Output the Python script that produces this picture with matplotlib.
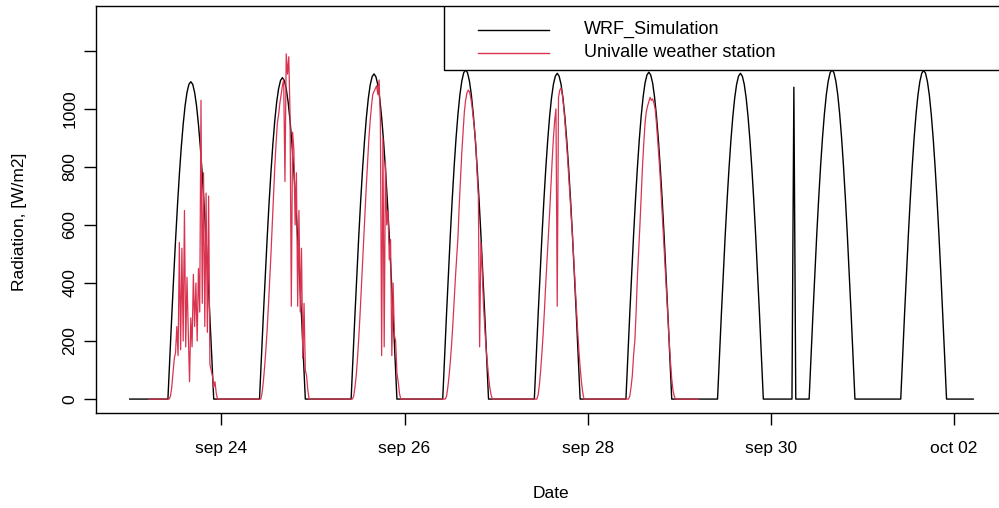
"""WRF simulated vs. Univalle station solar radiation, sep 23 - oct 02."""

import matplotlib
matplotlib.use("Agg")
import matplotlib.pyplot as plt
import numpy as np
from matplotlib.lines import Line2D
from matplotlib.patches import Rectangle

plt.rcParams["font.family"] = ["Liberation Sans", "DejaVu Sans"]

WRF_COLOR = "black"
STATION_COLOR = "#D93350"

# --- WRF simulation: half-hourly, hours counted from sep 23 00:00 ---
WRF_STEP_H = 0.5
WRF_END_H = 221.0
WRF_DAY_START_H = 10.5          # first non-zero sample of every day
# daytime values (10:30 .. 21:30) for each simulated day
wrf_sep23 = [143, 283, 419, 547, 666, 774, 868, 947, 1011, 1057, 1085, 1094,
             1085, 1057, 1011, 947, 868, 774, 666, 547, 419, 283, 143]
wrf_sep24 = [145, 287, 424, 554, 675, 783, 879, 960, 1024, 1070, 1098, 1108,
             1098, 1070, 1024, 960, 879, 783, 675, 554, 424, 287, 145]
wrf_sep25 = [146, 290, 429, 561, 682, 793, 889, 971, 1036, 1083, 1111, 1121,
             1111, 1083, 1036, 971, 889, 793, 682, 561, 429, 290, 146]
wrf_sep26 = [148, 294, 434, 568, 691, 803, 901, 983, 1049, 1096, 1125, 1135,
             1125, 1096, 1049, 983, 901, 803, 691, 568, 434, 294, 148]
wrf_sep27 = [147, 291, 430, 562, 684, 794, 891, 973, 1038, 1085, 1113, 1123,
             1113, 1085, 1038, 973, 891, 794, 684, 562, 430, 291, 147]
wrf_sep28 = [147, 292, 431, 564, 686, 797, 894, 976, 1041, 1089, 1117, 1127,
             1117, 1089, 1041, 976, 894, 797, 686, 564, 431, 292, 147]
wrf_sep29 = [147, 291, 430, 562, 684, 794, 891, 973, 1038, 1085, 1113, 1123,
             1113, 1085, 1038, 973, 891, 794, 684, 562, 430, 291, 147]
wrf_sep30 = [148, 294, 434, 568, 691, 803, 901, 983, 1049, 1096, 1125, 1135,
             1125, 1096, 1049, 983, 901, 803, 691, 568, 434, 294, 148]
wrf_oct01 = [148, 293, 434, 567, 690, 801, 899, 981, 1047, 1094, 1123, 1133,
             1123, 1094, 1047, 981, 899, 801, 690, 567, 434, 293, 148]
WRF_DAYS = [wrf_sep23, wrf_sep24, wrf_sep25, wrf_sep26, wrf_sep27,
            wrf_sep28, wrf_sep29, wrf_sep30, wrf_oct01]
# isolated glitch in the simulation output (sep 30, 06:00)
WRF_SPIKE_H = 174.0
WRF_SPIKE_V = 1075

# --- Univalle weather station: 20-minute data, hours from sep 23 00:00 ---
ST_STEP_H = 1 / 3
ST_START_H = 5.0
ST_END_H = 149.0
ST_DAY_START_H = 10.0           # daytime block 10:00 .. 23:40
st_sep23 = [0, 0, 10, 40, 90, 140, 160, 250, 150, 540, 170, 520, 200, 650,
            180, 420, 230, 60, 280, 180, 430, 250, 400, 200, 450, 300, 1030,
            330, 780, 250, 710, 230, 700, 120, 100, 80, 40, 60, 20, 0, 0, 0]
st_sep24 = [0, 0, 20, 60, 110, 170, 240, 320, 410, 500, 600, 700, 800, 880,
            950, 980, 1020, 1050, 1080, 1100, 750, 1190, 1120, 1180, 980, 320,
            920, 860, 600, 780, 320, 650, 300, 520, 140, 330, 100, 80, 30, 0,
            0, 0]
st_sep25 = [0, 0, 10, 40, 80, 140, 210, 290, 380, 470, 560, 650, 740, 820,
            900, 960, 1010, 1050, 1060, 1070, 1080, 1050, 1100, 960, 150, 900,
            180, 820, 600, 650, 480, 550, 150, 400, 220, 200, 90, 60, 20, 0,
            0, 0]
st_sep26 = [0, 0, 0, 10, 40, 80, 130, 190, 260, 340, 420, 490, 560, 670, 760,
            850, 920, 990, 1030, 1055, 1065, 1060, 1040, 1010, 970, 930, 880,
            780, 700, 180, 540, 450, 330, 250, 180, 130, 80, 40, 15, 0, 0, 0]
st_sep27 = [0, 0, 0, 15, 50, 100, 160, 230, 310, 400, 480, 560, 640, 730, 820,
            900, 960, 1000, 320, 1040, 1065, 1072, 1050, 1010, 960, 900, 840,
            770, 700, 630, 560, 480, 400, 320, 240, 170, 110, 60, 25, 0, 0, 0]
st_sep28 = [0, 0, 0, 10, 40, 80, 150, 200, 300, 420, 510, 600, 700, 800, 880,
            950, 990, 1010, 1025, 1040, 1030, 1035, 1020, 1000, 950, 890, 830,
            760, 680, 600, 520, 440, 360, 280, 200, 130, 70, 30, 10, 0, 0, 0]
ST_DAYS = [st_sep23, st_sep24, st_sep25, st_sep26, st_sep27, st_sep28]

TICK_HOURS = [24, 72, 120, 168, 216]
TICK_LABELS = ["sep 24", "sep 26", "sep 28", "sep 30", "oct 02"]
Y_TICKS = [0, 200, 400, 600, 800, 1000, 1200]
Y_TICK_LABELS = ["0", "200", "400", "600", "800", "1000", ""]


def _series(start_h, end_h, step_h, day_start_h, days):
    n = int(round((end_h - start_h) / step_h)) + 1
    t = start_h + np.arange(n) * step_h
    v = np.zeros(n)
    for k, vals in enumerate(days):
        i0 = int(round((24 * k + day_start_h - start_h) / step_h))
        v[i0:i0 + len(vals)] = vals
    return t, v


wrf_t, wrf_v = _series(0.0, WRF_END_H, WRF_STEP_H, WRF_DAY_START_H, WRF_DAYS)
wrf_v[int(round(WRF_SPIKE_H / WRF_STEP_H))] = WRF_SPIKE_V
st_t, st_v = _series(ST_START_H, ST_END_H, ST_STEP_H, ST_DAY_START_H, ST_DAYS)

W, H = 999, 508
fig = plt.figure(figsize=(W / 100, H / 100), dpi=100)
# plot region in pixels: left 96, right 1007 (cut off), top 6, bottom 413
ax = fig.add_axes([96 / W, (H - 413) / H, 911 / W, 407 / H])

ax.plot(wrf_t, wrf_v, color=WRF_COLOR, lw=1.0)
ax.plot(st_t, st_v, color=STATION_COLOR, lw=0.9)

ax.set_xlim(-8.84, 229.84)
ax.set_ylim(-48, 1355)
ax.set_xticks(TICK_HOURS)
ax.set_xticklabels(TICK_LABELS, fontsize=12.5)
ax.set_yticks(Y_TICKS)
ax.set_yticklabels(Y_TICK_LABELS, fontsize=12.5, rotation=90, va="center")
ax.tick_params(axis="x", length=8.5, width=1.0, pad=12)
ax.tick_params(axis="y", length=8.5, width=1.0, pad=5)
for spine in ax.spines.values():
    spine.set_linewidth(1.0)

fig.text(551 / W, 1 - 493 / H, "Date", fontsize=12.5, ha="center", va="center")
fig.text(20 / W, 1 - 222 / H, "Radiation, [W/m2]", fontsize=12.5,
         rotation=90, ha="center", va="center")

# legend box, R style (top right, square corners)
leg_left = (444 - 96) / 911
leg_bottom = (413 - 70) / 407
ax.add_patch(Rectangle((leg_left, leg_bottom), 1 - leg_left, 1 - leg_bottom,
                       transform=ax.transAxes, facecolor="white",
                       edgecolor="black", lw=1.0, zorder=5))
for y_px, color, label in [(29.6, WRF_COLOR, "WRF_Simulation"),
                           (52.5, STATION_COLOR, "Univalle weather station")]:
    y = (413 - y_px) / 407
    ax.add_line(Line2D([(478 - 96) / 911, (549 - 96) / 911], [y, y],
                       transform=ax.transAxes, color=color, lw=1.0, zorder=6))
    ax.text((584 - 96) / 911, y, label, transform=ax.transAxes, fontsize=13,
            va="center", ha="left", zorder=6)

fig.savefig("out.png", dpi=100)
